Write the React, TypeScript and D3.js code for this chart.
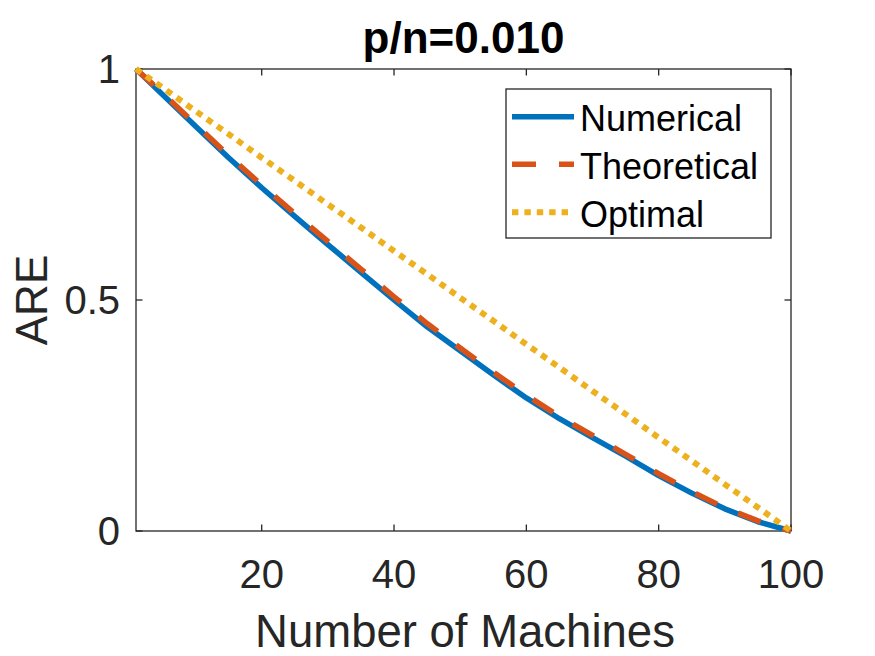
import { scaleLinear, line as d3line } from "d3";

const machines = [1, 5, 10, 15, 20, 25, 30, 35, 40, 45, 50, 55, 60, 65, 70, 75, 80, 85, 90, 95, 100];
const numerical = [1.0, 0.945, 0.876, 0.808, 0.743, 0.681, 0.62, 0.56, 0.5, 0.442, 0.39, 0.338, 0.288, 0.243, 0.202, 0.162, 0.12, 0.082, 0.048, 0.02, 0.0];
const theoretical = [1.0, 0.948, 0.88, 0.813, 0.749, 0.687, 0.627, 0.567, 0.507, 0.449, 0.396, 0.344, 0.294, 0.248, 0.207, 0.166, 0.124, 0.085, 0.05, 0.022, 0.0];
const optimal = [1.0, 0.96, 0.909, 0.859, 0.808, 0.758, 0.707, 0.657, 0.606, 0.556, 0.505, 0.455, 0.404, 0.354, 0.303, 0.253, 0.202, 0.152, 0.101, 0.051, 0.0];

const xTicks = [20, 40, 60, 80, 100];
const yTicks = [0, 0.5, 1];
const yTickLabels = ["0", "0.5", "1"];
const seriesNames = ["Numerical", "Theoretical", "Optimal"];

const font = "'Liberation Sans', Arial, Helvetica, sans-serif";
const axisColor = "#262626";

// matlab default line styles
const styles = [
  { color: "#0072BD", width: 5.5, dash: undefined as string | undefined },
  { color: "#D95319", width: 5.5, dash: "24 23" },
  { color: "#EDB120", width: 6, dash: "6.4 6" },
];

export default function App() {
  const x = scaleLinear().domain([1, 100]).range([136, 791]);
  const y = scaleLinear().domain([0, 1]).range([531, 69]);
  const [x0, x1] = x.range();
  const [y0, y1] = y.range();
  const tickLen = 6.5;

  const series = [numerical, theoretical, optimal];
  const paths = series.map((vals) =>
    d3line<number>()
      .x((_, i) => x(machines[i]))
      .y((d) => y(d))(vals) ?? undefined
  );

  const legend = { x: 506, y: 89, w: 265, h: 149 };
  const rowY = [116.7, 164.3, 212.3];

  return (
    <svg
      width={875}
      height={656}
      style={{ position: "absolute", left: 0, top: 0, background: "#fff" }}
      fontFamily={font}
    >
      {/* axes box */}
      <rect x={x0} y={y1} width={x1 - x0} height={y0 - y1} fill="none" stroke={axisColor} strokeWidth={1.3} />

      {xTicks.map((t) => (
        <g key={"xt" + t}>
          <line x1={x(t)} x2={x(t)} y1={y0} y2={y0 - tickLen} stroke={axisColor} strokeWidth={1.3} />
          <line x1={x(t)} x2={x(t)} y1={y1} y2={y1 + tickLen} stroke={axisColor} strokeWidth={1.3} />
          <text x={x(t)} y={588} textAnchor="middle" fontSize={40} fill={axisColor}>
            {t}
          </text>
        </g>
      ))}

      {yTicks.map((t, i) => (
        <g key={"yt" + t}>
          <line x1={x0} x2={x0 + tickLen} y1={y(t)} y2={y(t)} stroke={axisColor} strokeWidth={1.3} />
          <line x1={x1} x2={x1 - tickLen} y1={y(t)} y2={y(t)} stroke={axisColor} strokeWidth={1.3} />
          <text x={120} y={y(t) + 14.3} textAnchor="end" fontSize={40} fill={axisColor}>
            {yTickLabels[i]}
          </text>
        </g>
      ))}

      {/* series */}
      {paths.map((d, i) => (
        <path
          key={"s" + i}
          d={d}
          fill="none"
          stroke={styles[i].color}
          strokeWidth={styles[i].width}
          strokeDasharray={styles[i].dash}
          strokeLinejoin="round"
        />
      ))}

      {/* labels */}
      <text x={(x0 + x1) / 2} y={53} textAnchor="middle" fontSize={44} fontWeight="bold" fill="#000">
        p/n=0.010
      </text>
      <text x={465} y={647} textAnchor="middle" fontSize={45.5} fill={axisColor}>
        Number of Machines
      </text>
      <text
        transform={`translate(47, ${(y0 + y1) / 2}) rotate(-90)`}
        textAnchor="middle"
        fontSize={44}
        fill={axisColor}
      >
        ARE
      </text>

      {/* legend */}
      <rect x={legend.x} y={legend.y} width={legend.w} height={legend.h} fill="#fff" stroke={axisColor} strokeWidth={1.3} />
      {seriesNames.map((name, i) => (
        <g key={"lg" + name}>
          <line
            x1={512}
            x2={574}
            y1={rowY[i]}
            y2={rowY[i]}
            stroke={styles[i].color}
            strokeWidth={styles[i].width}
            strokeDasharray={styles[i].dash}
          />
          <text x={580} y={rowY[i] + 14.5} fontSize={36} fill="#000">
            {name}
          </text>
        </g>
      ))}
    </svg>
  );
}
